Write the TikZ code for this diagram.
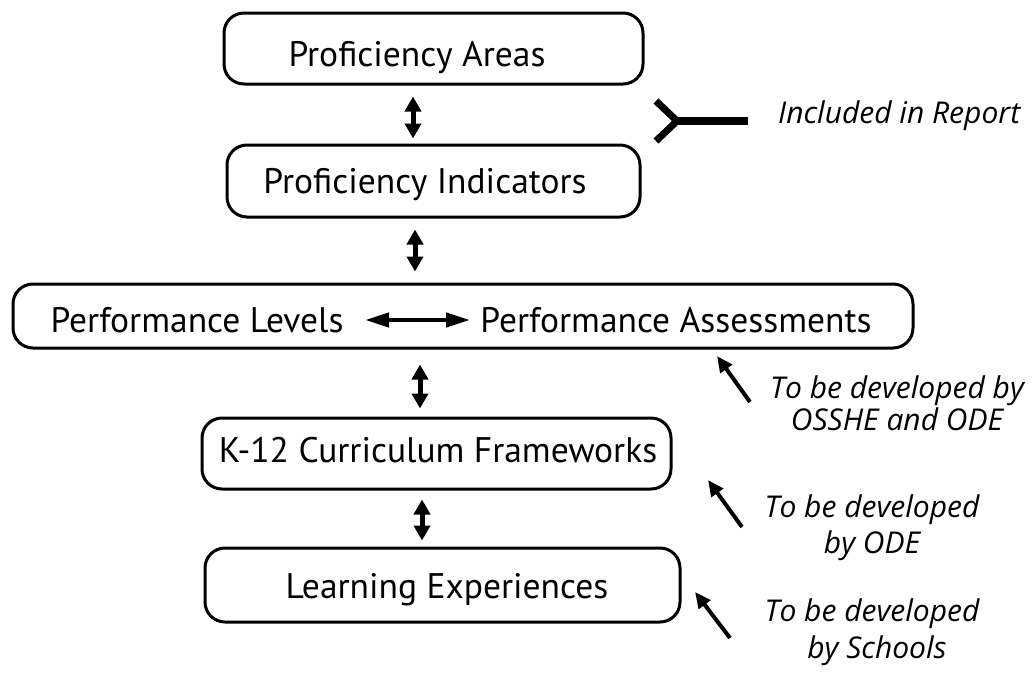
\documentclass[tikz,border=0pt]{standalone}
\usepackage{fontspec}
\setmainfont{PT Sans}
\newfontfamily\notefont{Open Sans}
\usetikzlibrary{arrows.meta}
\begin{document}
\begin{tikzpicture}[x=1pt,y=-1pt,
  box/.style={draw, line width=3pt, rounded corners=20pt, inner sep=0pt},
  lbl/.style={font=\fontsize{35.5}{40}\selectfont, anchor=base, inner sep=0pt},
  note/.style={font=\notefont\fontsize{30}{34}\selectfont\itshape, anchor=base, inner sep=0pt},
  vdbl/.style={line width=5pt, {Triangle[length=15pt,width=16pt]}-{Triangle[length=15pt,width=16pt]}},
  hdbl/.style={line width=4.5pt, {Triangle[length=24pt,width=14pt]}-{Triangle[length=24pt,width=14pt]}},
  ptr/.style={line width=4pt, -{Triangle[length=16pt,width=14pt]}},
  brk/.style={line width=7pt, line join=miter}
]
\useasboundingbox (0,0) rectangle (1032,688);

% boxes
\node[box, minimum width=419pt, minimum height=71pt] (b1) at (433.5,48.5) {};
\node[box, minimum width=413pt, minimum height=72pt] (b2) at (433.5,181) {};
\node[box, minimum width=900pt, minimum height=64pt] (b3) at (463,316) {};
\node[box, minimum width=469pt, minimum height=71pt] (b4) at (436.5,453.5) {};
\node[box, minimum width=475pt, minimum height=74pt] (b5) at (442.5,585) {};

% texts
\node[lbl] (t1) at (417,66) {Proficiency Areas};
\node[lbl] (t2) at (425,193) {Proficiency Indicators};
\node[lbl] (t3a) at (197,332) {Performance Levels};
\node[lbl] (t3b) at (676,332) {Performance Assessments};
\node[lbl] (t4) at (438,462) {K-12 Curriculum Frameworks};
\node[lbl] (t5) at (447,598) {Learning Experiences};

% vertical connectors
\coordinate (x1) at (413,0);
\coordinate (x2) at (415,0);
\coordinate (x3) at (420,0);
\coordinate (x4) at (422,0);
\draw[vdbl, shorten <=11pt, shorten >=5pt] (b1.south -| x1) -- (b2.north -| x1);
\draw[vdbl, shorten <=11pt, shorten >=11pt] (b2.south -| x2) -- (b3.north -| x2);
\draw[vdbl, shorten <=15pt, shorten >=8pt] (b3.south -| x3) -- (b4.north -| x3);
\draw[vdbl, shorten <=9pt, shorten >=6pt] (b4.south -| x4) -- (b5.north -| x4);

% horizontal connector
\coordinate (h1) at (365,320);
\coordinate (h2) at (470,320);
\draw[hdbl] (h1) -- (h2);

% bracket
\coordinate (bu) at (656,101);
\coordinate (bv) at (677,121);
\coordinate (bl) at (656,141);
\coordinate (be) at (748,121);
\draw[brk] (bu) -- (bv) -- (bl);
\draw[line width=8pt] (bv) -- (be);
\node[note, anchor=base west] (inc) at (778,123) {Included in Report};

% notes
\node[note] (n1a) at (897,398) {To be developed by};
\node[note] (n1b) at (897,430) {OSSHE and ODE};
\node[note] (n2a) at (872,517) {To be developed};
\node[note] (n2b) at (872,553) {by ODE};
\node[note] (n3a) at (872,621) {To be developed};
\node[note] (n3b) at (877,658) {by Schools};

% pointers
\coordinate (p1s) at (750,402);
\coordinate (p1e) at (717,356);
\coordinate (p2s) at (742,527);
\coordinate (p2e) at (708,480);
\coordinate (p3s) at (730,638);
\coordinate (p3e) at (695,592);
\draw[ptr] (p1s) -- (p1e);
\draw[ptr] (p2s) -- (p2e);
\draw[ptr] (p3s) -- (p3e);
\end{tikzpicture}
\end{document}
